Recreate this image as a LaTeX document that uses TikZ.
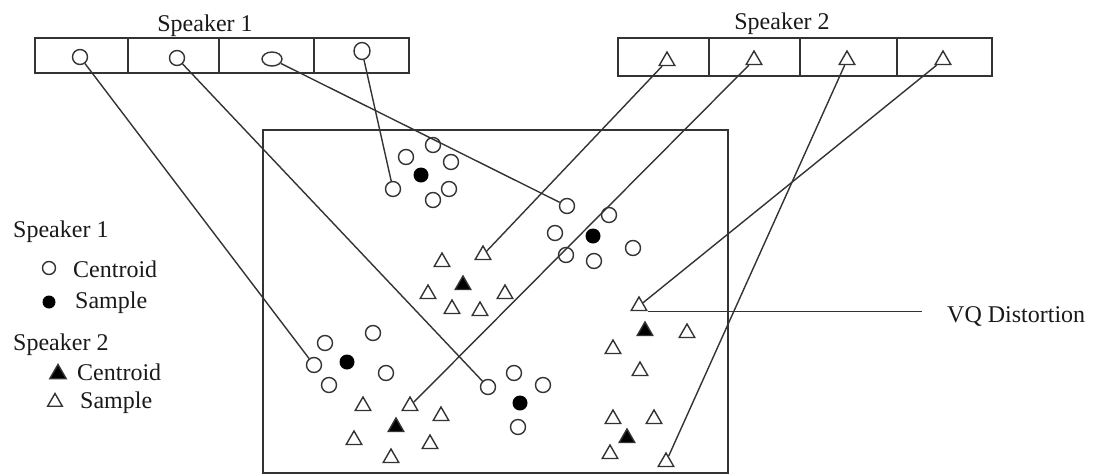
\documentclass[tikz,border=0pt]{standalone}
\usepackage{fontspec}
\setmainfont{Liberation Serif}
\usetikzlibrary{shapes.geometric}
\begin{document}
\begin{tikzpicture}[x=1pt,y=-1pt,
  every node/.style={font=\fontsize{24}{28}\selectfont},
  ln/.style={line width=1.4pt, draw=black!80},
  cen/.style={circle, draw=black!80, line width=1.4pt, inner sep=0pt, minimum size=15pt},
  smp/.style={circle, fill=black, inner sep=0pt, minimum size=15pt},
  tri/.style={regular polygon, regular polygon sides=3, draw=black!80, line width=1.4pt, inner sep=0pt, minimum size=18pt},
  ftri/.style={tri, fill=black},
  cell/.style={rectangle, draw=black!80, line width=1.4pt, inner sep=0pt},
  lbl/.style={anchor=base west, inner sep=0pt, text=black!90},
]
\useasboundingbox (0,0) rectangle (1101,475);

% ---------- codebook of speaker 1 ----------
\node[cell, minimum width=93pt, minimum height=35pt] (p1) at (81.5,55.5) {};
\node[cell, minimum width=91pt, minimum height=35pt] (p2) at (173.5,55.5) {};
\node[cell, minimum width=95pt, minimum height=35pt] (p3) at (266.5,55.5) {};
\node[cell, minimum width=95pt, minimum height=35pt] (p4) at (361.5,55.5) {};
\node[anchor=base, inner sep=0pt, text=black!90] (l1) at (205,31) {Speaker 1};
\node[cen] (s1a) at (80,57) {};
\node[cen] (s1b) at (177,58) {};
\node[ellipse, draw=black!80, line width=1.4pt, inner sep=0pt, minimum width=20pt, minimum height=14pt] (s1c) at (272,59) {};
\node[ellipse, draw=black!80, line width=1.4pt, inner sep=0pt, minimum width=16pt, minimum height=17pt] (s1d) at (362,51) {};

% ---------- codebook of speaker 2 ----------
\node[cell, minimum width=91pt, minimum height=38pt] (q1) at (663.5,57) {};
\node[cell, minimum width=91pt, minimum height=38pt] (q2) at (754.5,57) {};
\node[cell, minimum width=97pt, minimum height=38pt] (q3) at (848.5,57) {};
\node[cell, minimum width=95pt, minimum height=38pt] (q4) at (944.5,57) {};
\node[anchor=base, inner sep=0pt, text=black!90] (l2) at (782,29) {Speaker 2};
\node[tri] (s2a) at (667,61) {};
\node[tri] (s2b) at (754,60) {};
\node[tri] (s2c) at (847,60) {};
\node[tri] (s2d) at (943,60) {};

% ---------- feature space ----------
\draw[ln] (263,130) rectangle (728,473);

% cluster A (speaker 1)
\node[cen] (a1) at (406,157) {};
\node[cen] (a2) at (433,145) {};
\node[cen] (a3) at (451,162) {};
\node[cen] (a4) at (393,189) {};
\node[cen] (a5) at (449,189) {};
\node[cen] (a6) at (433,200) {};
\node[smp] (a0) at (421,175) {};

% cluster B (speaker 1)
\node[cen] (b1) at (567,206) {};
\node[cen] (b2) at (609,215) {};
\node[cen] (b3) at (555,233) {};
\node[cen] (b4) at (566,255) {};
\node[cen] (b5) at (594,261) {};
\node[cen] (b6) at (633,248) {};
\node[smp] (b0) at (593,236) {};

% cluster C (speaker 1)
\node[cen] (c1) at (373,333) {};
\node[cen] (c2) at (325,343) {};
\node[cen] (c3) at (314,365) {};
\node[cen] (c4) at (329,385) {};
\node[cen] (c5) at (386,373) {};
\node[smp] (c0) at (347,362) {};

% cluster D (speaker 1)
\node[cen] (d1) at (514,373) {};
\node[cen] (d2) at (488,387) {};
\node[cen] (d3) at (543,385) {};
\node[cen] (d4) at (518,427) {};
\node[smp] (d0) at (520,403) {};

% cluster E (speaker 2)
\node[tri] (e1) at (483,255) {};
\node[tri] (e2) at (442,262) {};
\node[tri] (e3) at (428,294) {};
\node[tri] (e4) at (452,309) {};
\node[tri] (e5) at (480,311) {};
\node[tri] (e6) at (505,294) {};
\node[ftri] (e0) at (463,285) {};

% cluster F (speaker 2)
\node[tri] (f1) at (363,406) {};
\node[tri] (f2) at (410,406) {};
\node[tri] (f3) at (441,416) {};
\node[tri] (f4) at (354,440) {};
\node[tri] (f5) at (430,444) {};
\node[tri] (f6) at (391,458) {};
\node[ftri] (f0) at (396,427) {};

% cluster G (speaker 2)
\node[tri] (g1) at (639,306) {};
\node[tri] (g2) at (687,333) {};
\node[tri] (g3) at (613,349) {};
\node[tri] (g4) at (640,371) {};
\node[ftri] (g0) at (645,331) {};

% cluster H (speaker 2)
\node[tri] (h1) at (613,419) {};
\node[tri] (h2) at (654,419) {};
\node[tri] (h3) at (610,454) {};
\node[tri] (h4) at (666,462) {};
\node[ftri] (h0) at (627,438) {};

% ---------- codeword links ----------
\draw[ln] (s1a) -- (c3);
\draw[ln] (s1b) -- (d2);
\draw[ln] (s1c) -- (b1);
\draw[ln] (s1d) -- (a4);
\draw[ln] (s2a) -- (e1);
\draw[ln] (s2b) -- (f2);
\draw[ln] (s2c) -- (h4);
\draw[ln] (s2d) -- (g1);

% ---------- VQ distortion ----------
\coordinate (vqe) at (922,315);
\node[lbl] (vq) at (947,322) {VQ Distortion};
\draw[ln] (g1.corner 3) -- (g1.corner 3 -| vqe);

% ---------- legend ----------
\node[lbl] (k1) at (13,237) {Speaker 1};
\node[cen, minimum size=13pt] (k1a) at (49,268) {};
\node[lbl] (k1at) at (73,277) {Centroid};
\node[smp, minimum size=13pt] (k1b) at (49,302) {};
\node[lbl] (k1bt) at (75,308) {Sample};
\node[lbl] (k2) at (13,350) {Speaker 2};
\node[ftri, minimum size=19pt] (k2a) at (58,374) {};
\node[lbl] (k2at) at (77,380) {Centroid};
\node[tri, minimum size=17pt] (k2b) at (55,402) {};
\node[lbl] (k2bt) at (80,408) {Sample};
\end{tikzpicture}
\end{document}
